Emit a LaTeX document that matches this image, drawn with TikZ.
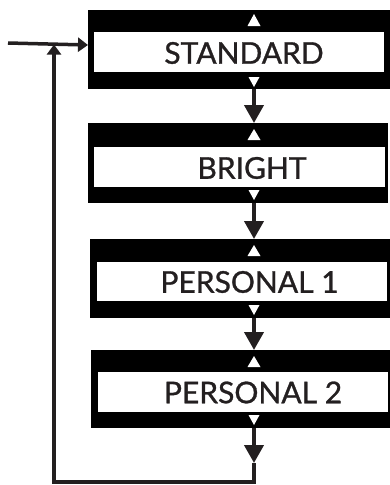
\documentclass[tikz,border=0pt]{standalone}
\usepackage{fontspec}
\setmainfont{Lato}[FakeBold=1]
\usetikzlibrary{arrows.meta}
\definecolor{ink}{HTML}{231F20}
\begin{document}
\begin{tikzpicture}[x=1pt,y=-1pt,
  outerbox/.style={fill=black, inner sep=0pt, anchor=north west},
  innerbox/.style={fill=white, inner sep=0pt, anchor=north west},
  label/.style={text=ink, inner sep=0pt, font=\fontsize{30}{30}\selectfont},
  conn/.style={draw=ink, line width=4pt, -{Triangle[width=19pt,length=18pt]}},
  loopline/.style={draw=ink, line width=3.5pt, line join=miter},
  smalltip/.style={-{Triangle[width=14pt,length=10pt]}},
  tri/.style={fill=white}]
\useasboundingbox (0,0) rectangle (390,485);
% boxes
\node[outerbox, minimum width=302pt, minimum height=79pt] (o1) at (88,10) {};
\node[innerbox, minimum width=290pt, minimum height=40pt] (i1) at (94,32) {};
\node[label] (t1) at (244,53) {STANDARD};
\node[outerbox, minimum width=300pt, minimum height=80pt] (o2) at (88,123) {};
\node[innerbox, minimum width=291pt, minimum height=40pt] (i2) at (94,147) {};
\node[label] (t2) at (252,168) {BRIGHT};
\node[outerbox, minimum width=300pt, minimum height=79pt] (o3) at (90,239) {};
\node[innerbox, minimum width=290pt, minimum height=39pt] (i3) at (97,262) {};
\node[label] (t3) at (249.5,282) {PERSONAL 1};
\node[outerbox, minimum width=299pt, minimum height=78pt] (o4) at (91,350) {};
\node[innerbox, minimum width=290pt, minimum height=40pt] (i4) at (98,372) {};
\node[label] (t4) at (253,392.5) {PERSONAL 2};
% triangles
\fill[tri] (247.5,26) -- (260.5,26) -- (254,14) -- cycle;
\fill[tri] (248.5,77) -- (259.5,77) -- (254,87) -- cycle;
\fill[tri] (247.5,140) -- (260.5,140) -- (254,129) -- cycle;
\fill[tri] (248.5,190) -- (259.5,190) -- (254,200) -- cycle;
\fill[tri] (247.5,256) -- (260.5,256) -- (254,245) -- cycle;
\fill[tri] (248.5,305) -- (259.5,305) -- (254,315) -- cycle;
\fill[tri] (247.5,367) -- (260.5,367) -- (254,356) -- cycle;
\fill[tri] (248.5,415) -- (259.5,415) -- (254,425) -- cycle;
% connectors
\coordinate (ax) at (254,0);
\draw[conn] (o1.south -| ax) -- (o2.north -| ax);
\draw[conn] (o2.south -| ax) -- (o3.north -| ax);
\draw[conn] (o3.south -| ax) -- (o4.north -| ax);
\coordinate (b1) at (254,463);
\coordinate (b2) at (254,482);
\coordinate (b3) at (54,482);
\coordinate (jn) at (54,44.5);
\coordinate (entry) at (8,43);
\coordinate (hit) at (88,45);
\draw[conn] (o4.south -| ax) -- (b1);
\draw[loopline, smalltip] (b1) -- (b2) -- (b3) -- (jn);
\draw[loopline, smalltip] (entry) -- (hit);
\end{tikzpicture}
\end{document}
